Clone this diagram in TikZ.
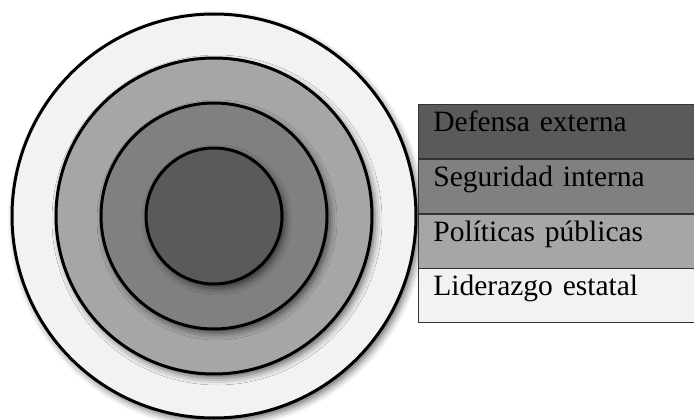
\documentclass[tikz,border=0pt]{standalone}
\usepackage{fontspec}
\setmainfont{Liberation Serif}
\usetikzlibrary{positioning,shadows.blur}

\definecolor{nivelA}{HTML}{5A5A5A}
\definecolor{nivelB}{HTML}{808080}
\definecolor{nivelC}{HTML}{A6A6A6}
\definecolor{nivelD}{HTML}{F2F2F2}

\tikzset{
    ring/.style={circle, draw=black, line width=3pt, inner sep=0pt,
        blur shadow={shadow xshift=3pt, shadow yshift=-4pt,
            shadow blur radius=7pt, shadow opacity=60}},
    rowbox/.style={draw=black!80, line width=0.8pt, anchor=north west,
        minimum width=290pt, text width=260pt, inner xsep=15pt, inner ysep=0pt,
        text height=27pt, text depth=27pt, align=left,
        font=\fontsize{29.5}{30}\selectfont}
}

\begin{document}
\begin{tikzpicture}[x=1pt, y=-1pt]
    \useasboundingbox (0,0) rectangle (694,420);

    % Rings
    \node[ring, fill=nivelD, minimum size=404pt] (liderazgo) at (214,216) {};
    \node[ring, fill=nivelC, minimum size=316pt] (politicas) at (214,216) {};
    \node[ring, fill=nivelB, minimum size=226pt] (seguridad) at (214,216) {};
    \node[ring, fill=nivelA, minimum size=136pt] (defensa) at (214,216) {};

    % Legend
    \node[rowbox, fill=nivelA] (r1) at (418,104) {Defensa externa};
    \node[rowbox, fill=nivelB, below=0pt of r1] (r2) {Seguridad interna};
    \node[rowbox, fill=nivelC, below=0pt of r2] (r3) {Políticas públicas};
    \node[rowbox, fill=nivelD, below=0pt of r3] (r4) {Liderazgo estatal};
\end{tikzpicture}
\end{document}
